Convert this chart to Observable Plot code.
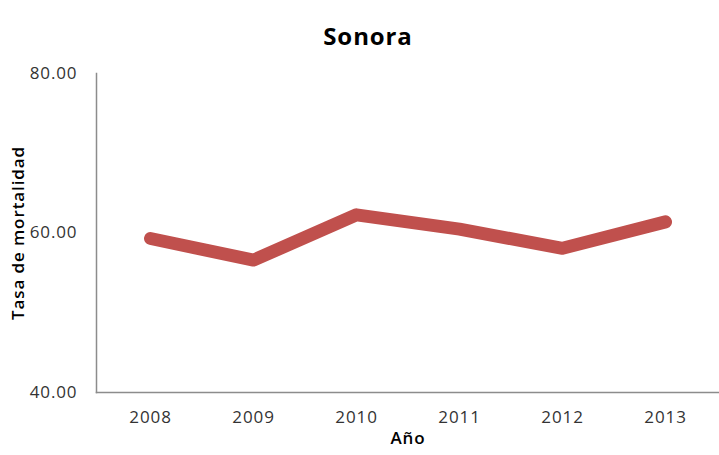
<!DOCTYPE html>
<html><head><meta charset="utf-8">
<script src="https://cdn.jsdelivr.net/npm/d3@7"></script>
<script src="https://cdn.jsdelivr.net/npm/@observablehq/plot@0.6"></script>
<style>body{margin:0;background:#fff}</style>
</head><body><div id="chart"></div>
<script>
const years = ["2008","2009","2010","2011","2012","2013"];
const rates = [59.31, 56.6, 62.28, 60.49, 58.08, 61.4];
const yTicks = [40, 60, 80];
const title = "Sonora";
const yLabel = "Tasa de mortalidad";
const xLabel = "Año";

const data = years.map((y, i) => ({year: y, rate: rates[i]}));
const font = "Open Sans";

const chart = Plot.plot({
  width: 719, height: 455,
  marginLeft: 96, marginRight: 0, marginTop: 73, marginBottom: 63,
  style: {fontFamily: font, fontSize: "17px", color: "#222", background: "#fff", letterSpacing: "0.9px"},
  x: {type: "point", domain: years, padding: 0.5, label: null, tickSize: 0, tickPadding: 18},
  y: {domain: [40, 80], ticks: yTicks, tickFormat: d => d.toFixed(2), label: null, tickSize: 0, tickPadding: 19},
  marks: [
    Plot.frame({anchor: "left", stroke: "#8c8c8c", strokeWidth: 1.5}),
    Plot.frame({anchor: "bottom", stroke: "#8c8c8c", strokeWidth: 1.5}),
    Plot.line(data, {x: "year", y: "rate", stroke: "#C0504D", strokeWidth: 13, strokeLinecap: "round", strokeLinejoin: "round"}),
    Plot.text([title], {frameAnchor: "top", dx: -40, dy: -46, text: d => d, fontSize: 24, fontWeight: "bold", fill: "#000", textAnchor: "middle", letterSpacing: "0.3px"}),
    Plot.text([yLabel], {frameAnchor: "left", dx: -78, rotate: -90, text: d => d, fontSize: 17, fontWeight: 600, fill: "#000", textAnchor: "middle", letterSpacing: "0.3px"}),
    Plot.text([xLabel], {frameAnchor: "bottom", dy: 51, text: d => d, fontSize: 17, fontWeight: 600, fill: "#000", textAnchor: "middle", letterSpacing: "0.3px"})
  ]
});
chart.querySelectorAll("g[aria-label='x-axis tick label'] text, g[aria-label='y-axis tick label'] text").forEach(t => t.setAttribute("fill", "#333"));
document.getElementById("chart").appendChild(chart);
</script>
</body></html>
